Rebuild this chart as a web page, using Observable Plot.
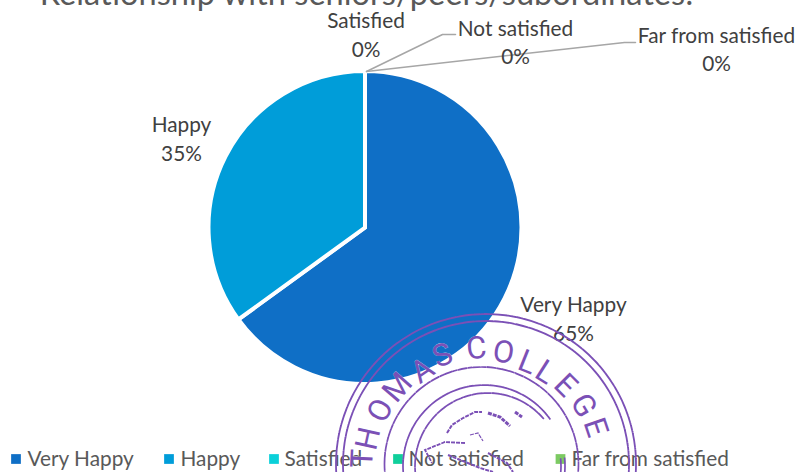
<!DOCTYPE html>
<html>
<head>
<meta charset="utf-8">
<script src="https://cdn.jsdelivr.net/npm/d3@7"></script>
<script src="https://cdn.jsdelivr.net/npm/@observablehq/plot@0.6"></script>
<style>
html,body{margin:0;padding:0;background:#fff;overflow:hidden}
svg{display:block;font-family:Lato,sans-serif}
</style>
</head>
<body>
<script>
const titleText = "Relationship with seniors/peers/subordinates:";
const categories = ["Very Happy", "Happy", "Satisfied", "Not satisfied", "Far from satisfied"];
const shares = [65, 35, 0, 0, 0];
const palette = ["#0F6FC6", "#009DD9", "#0BD0D9", "#10CF9B", "#7CCA62"];
const stampLetters = ["T","H","O","M","A","S","C","O","L","L","E","G","E"];

const W = 802, H = 472;
const pieC = [365, 227.5], pieR = 156.5;
const labelAt = [[573, 317], [181, 137], [365.5, 33], [515, 40.5], [716, 47.5]];
const legendMarkX = [15.5, 168.5, 273.5, 397.5, 560];
const legendTextX = [27, 180, 284, 408, 571];
const legendY = 458.5;
const leaders = [
  {cat: categories[3], pts: [[366, 71], [442, 34], [455, 34]]},
  {cat: categories[4], pts: [[366, 71], [624, 42], [635, 42]]}
];
const ink = "#7B50B6";
const stampC = [486, 464];
const letterAt = [[362,458],[368,438],[380,410],[397,387],[422,370],[442,355],[476,348],[503,352],[527,362],[545,372],[565,385],[583,405],[595,427]];

const labelRows = categories.map((c, i) => ({c, text: `${c}\n${shares[i]}%`, x: labelAt[i][0], y: labelAt[i][1]}));
const legendRows = categories.map((c, i) => ({c, mx: legendMarkX[i], tx: legendTextX[i], y: legendY}));
const leaderRows = leaders.flatMap(l => l.pts.map(p => ({cat: l.cat, x: p[0], y: p[1]})));
const letterRows = stampLetters.map((t, i) => ({
  t, x: letterAt[i][0], y: letterAt[i][1],
  rot: Math.atan2(letterAt[i][0] - stampC[0], stampC[1] - letterAt[i][1]) * 180 / Math.PI
}));

function pieMark(index, scales) {
  const g = d3.create("svg:g");
  const arcs = d3.pie().sort(null).value(d => d.v)(categories.map((c, i) => ({c, v: shares[i]})));
  const arc = d3.arc().innerRadius(0).outerRadius(pieR);
  g.selectAll("path").data(arcs.filter(a => a.data.v > 0)).join("path")
    .attr("transform", `translate(${scales.x(pieC[0])},${scales.y(pieC[1])})`)
    .attr("d", arc)
    .attr("fill", a => scales.color(a.data.c))
    .attr("stroke", "#fff").attr("stroke-width", 4);
  return g.node();
}

function stampMark() {
  const g = d3.create("svg:g").attr("fill", "none").attr("stroke", ink);
  const arc = d3.arc();
  const ring = (cx, cy, r, a0, a1, w, dash) => g.append("path")
    .attr("transform", `translate(${cx},${cy})`)
    .attr("d", arc({innerRadius: r, outerRadius: r, startAngle: a0 * Math.PI / 180, endAngle: a1 * Math.PI / 180}))
    .attr("stroke-width", w).attr("stroke-dasharray", dash);
  ring(486, 464, 150, -100, 100, 1.8, "16 1.2 9 1 5 1");
  ring(486, 464, 143, -100, 100, 1.8, "12 1 7 1 18 1");
  ring(481.5, 464, 97, -100, 100, 1.7, "9 1 13 1 4 1");
  ring(484, 466, 81, -100, 55, 1.7, "12 1 7 1");
  ring(488, 466, 73, -100, 50, 1.7, "10 1 8 1");
  ring(484, 466, 81, 84, 100, 1.7, "none");
  ring(488, 466, 73, 84, 100, 1.7, "none");
  const blots = [
    ["M447,433L452,425L463,418L475,412L482,412", 2],
    ["M488,413L500,417L510,426", 3],
    ["M515,412L522,417", 3],
    ["M470,435L478,433L483,441", 1.2],
    ["M465,443L445,442L425,450L432,463", 1.8],
    ["M448,455L480,468L493,472", 2],
    ["M488,453L507,463L513,472", 2]
  ];
  blots.forEach(([d, w]) => g.append("path").attr("d", d).attr("stroke-width", w).attr("stroke-dasharray", "4 1"));
  return g.node();
}

const chart = Plot.plot({
  width: W, height: H, margin: 0,
  x: {domain: [0, W], range: [0, W], axis: null},
  y: {domain: [0, H], range: [0, H], axis: null},
  color: {domain: categories, range: palette},
  style: {background: "#fff", fontFamily: "Lato, sans-serif"},
  marks: [
    Plot.text([titleText], {x: () => 366, y: () => -6, text: d => d, fontSize: 32.6, fill: "#595959", lineAnchor: "middle"}),
    pieMark,
    Plot.line(leaderRows, {x: "x", y: "y", z: "cat", stroke: "#A6A6A6", strokeWidth: 1.5}),
    Plot.text(labelRows, {x: "x", y: "y", text: "text", fontSize: 20.8, fill: "#404040", lineHeight: 1.35, textAnchor: "middle"}),
    Plot.dot(legendRows, {x: "mx", y: "y", symbol: "square", r: 5.5, fill: "c", stroke: "none"}),
    Plot.text(legendRows, {x: "tx", y: "y", text: "c", fontSize: 20.8, fill: "#595959", textAnchor: "start"}),
    stampMark,
    Plot.text(letterRows, {x: "x", y: "y", text: "t", rotate: "rot", fontSize: 31, fontFamily: "Roboto", fill: ink, stroke: "#fff", strokeWidth: 0.3})
  ]
});
document.body.appendChild(chart);
</script>
</body>
</html>
